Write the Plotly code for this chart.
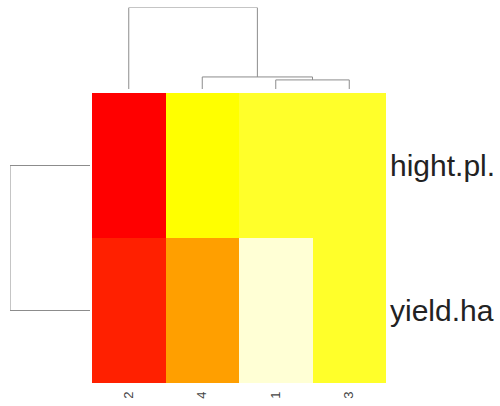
import plotly.graph_objects as go

# ---- data ----
col_labels = ["2", "4", "1", "3"]           # column order after clustering
row_labels = ["yield.ha", "hight.pl."]      # bottom to top
z_hight = [-1.5, 0.3, 0.55, 0.5]
z_yield = [-1.25, -0.3, 1.1, 0.6]
heat_colors = ["#FF0000", "#FF2000", "#FF4000", "#FF6000", "#FF8000", "#FF9F00",
               "#FFBF00", "#FFDF00", "#FFFF00", "#FFFF2A", "#FFFF80", "#FFFFD5"]
# column dendrogram merges (positions are leaf indices in col_labels order)
col_merge_13 = 0.77     # merge of "1" and "3"
col_merge_4 = 1.02      # merge of "4" with (1,3)
col_merge_root = 6.9    # merge of "2" with the rest
row_merge = 5.2         # merge of the two rows

z = [z_yield, z_hight]
zmin = min(min(r) for r in z)
zmax = max(max(r) for r in z)
n = len(heat_colors)
cscale = []
for i, c in enumerate(heat_colors):
    cscale.append([i / n, c])
    cscale.append([(i + 1) / n, c])

fig = go.Figure()
fig.add_trace(go.Heatmap(z=z, x=col_labels, y=row_labels, colorscale=cscale,
                         zmin=zmin, zmax=zmax, showscale=False, xgap=0, ygap=0,
                         xaxis="x", yaxis="y", hoverinfo="skip"))

line = dict(color="#8c8c8c", width=1)

# column dendrogram
i2, i4, i1, i3 = 0, 1, 2, 3
m13 = (i1 + i3) / 2
m4 = (i4 + m13) / 2
cx = [i1, i1, i3, i3, None,
      i4, i4, m13, m13, None,
      i2, i2, m4, m4]
cy = [0, col_merge_13, col_merge_13, 0, None,
      0, col_merge_4, col_merge_4, col_merge_13, None,
      0, col_merge_root, col_merge_root, col_merge_4]
fig.add_trace(go.Scatter(x=cx, y=cy, mode="lines", line=line, xaxis="x2", yaxis="y2",
                         hoverinfo="skip", showlegend=False))

# row dendrogram
rx = [0, row_merge, row_merge, 0]
ry = [0, 0, 1, 1]
fig.add_trace(go.Scatter(x=rx, y=ry, mode="lines", line=line, xaxis="x3", yaxis="y3",
                         hoverinfo="skip", showlegend=False))

W, H = 500, 406
hx0, hx1 = 92 / W, 386 / W
hy0, hy1 = (H - 383) / H, (H - 93) / H

fig.update_layout(
    width=W, height=H, margin=dict(l=0, r=0, t=0, b=0),
    paper_bgcolor="white", plot_bgcolor="white", showlegend=False,
    font=dict(family="Liberation Sans, Arial, sans-serif", color="#222222"),
    xaxis=dict(domain=[hx0, hx1], range=[-0.5, 3.5], type="category", tickangle=-90,
               ticks="", showgrid=False, zeroline=False, showline=False,
               tickfont=dict(size=13, color="#444444"), ticklabelstandoff=5),
    yaxis=dict(domain=[hy0, hy1], range=[-0.5, 1.5], type="category", side="right",
               ticks="", showgrid=False, zeroline=False, showline=False,
               tickfont=dict(size=30, color="#222222"), ticklabelstandoff=3),
    xaxis2=dict(domain=[hx0, hx1], range=[-0.5, 3.5], visible=False, anchor="y2"),
    yaxis2=dict(domain=[(H - 89) / H, (H - 7.5) / H], range=[0, col_merge_root],
                visible=False, anchor="x2"),
    xaxis3=dict(domain=[10 / W, 90 / W], range=[row_merge, 0], visible=False, anchor="y3"),
    yaxis3=dict(domain=[hy0, hy1], range=[-0.5, 1.5], visible=False, anchor="x3"),
)

fig.write_html("out.html", config={"displayModeBar": False},
               post_script="document.body.style.margin='0';document.body.style.overflow='hidden';")
